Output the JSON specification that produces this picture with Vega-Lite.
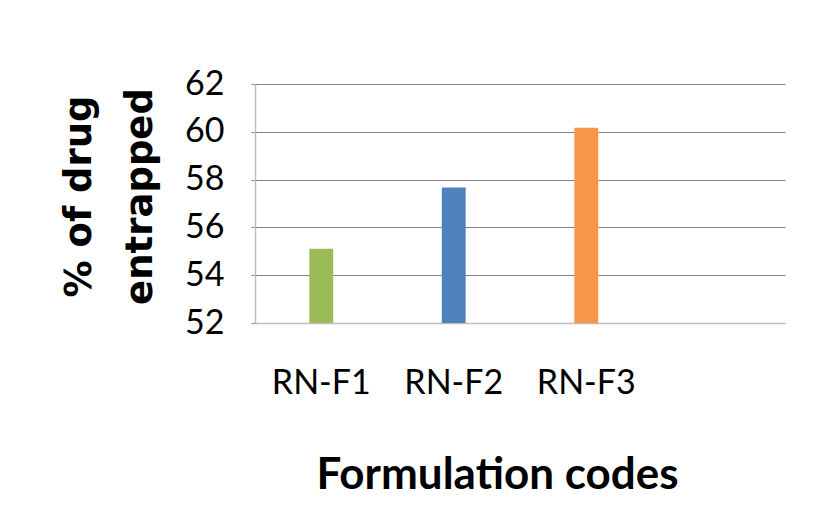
{
  "$schema": "https://vega.github.io/schema/vega-lite/v6.json",
  "width": 530,
  "height": 239,
  "autosize": {"type": "none"},
  "padding": {"left": 255, "top": 84, "right": 40, "bottom": 187},
  "background": "white",
  "config": {"view": {"stroke": null}},
  "data": {
    "values": [
      {"code": "RN-F1", "value": 55.11},
      {"code": "RN-F2", "value": 57.67},
      {"code": "RN-F3", "value": 60.17}
    ]
  },
  "mark": {"type": "bar"},
  "encoding": {
    "x": {
      "field": "code",
      "type": "nominal",
      "scale": {"domain": ["RN-F1", "RN-F2", "RN-F3", " "], "paddingInner": 0.82, "paddingOuter": 0.41},
      "axis": {
        "labelAngle": 0,
        "labelFont": "Lato",
        "labelFontSize": 34,
        "labelColor": "#000000",
        "labelPadding": 43,
        "ticks": false,
        "domainColor": "#bfbfbf",
        "domainWidth": 1.5,
        "title": "Formulation codes",
        "titleFont": "Lato",
        "titleFontSize": 44,
        "titleFontWeight": "bold",
        "titleColor": "#000000",
        "titleX": 242,
        "titleY": 165,
        "titleAlign": "center",
        "titleBaseline": "alphabetic"
      }
    },
    "y": {
      "field": "value",
      "type": "quantitative",
      "scale": {"domain": [52, 62], "zero": false, "nice": false},
      "axis": {
        "values": [52, 54, 56, 58, 60, 62],
        "labelFont": "Lato",
        "labelFontSize": 34,
        "labelColor": "#000000",
        "labelPadding": 27,
        "tickSize": 4,
        "tickColor": "#868686",
        "domainColor": "#bfbfbf",
        "domainWidth": 1.5,
        "grid": true,
        "gridColor": "#868686",
        "gridWidth": 1,
        "title": ["% of drug", "entrapped"],
        "titleFont": "DejaVu Sans",
        "titleFontSize": 37,
        "titleFontWeight": "bold",
        "titleColor": "#000000",
        "titleLineHeight": 61,
        "titleAngle": -90,
        "titleX": -176,
        "titleY": 112,
        "titleAlign": "center",
        "titleBaseline": "middle"
      }
    },
    "y2": {"datum": 52},
    "color": {
      "field": "code",
      "type": "nominal",
      "scale": {"domain": ["RN-F1", "RN-F2", "RN-F3"], "range": ["#9BBB59", "#4F81BD", "#F79646"]},
      "legend": null
    }
  }
}
